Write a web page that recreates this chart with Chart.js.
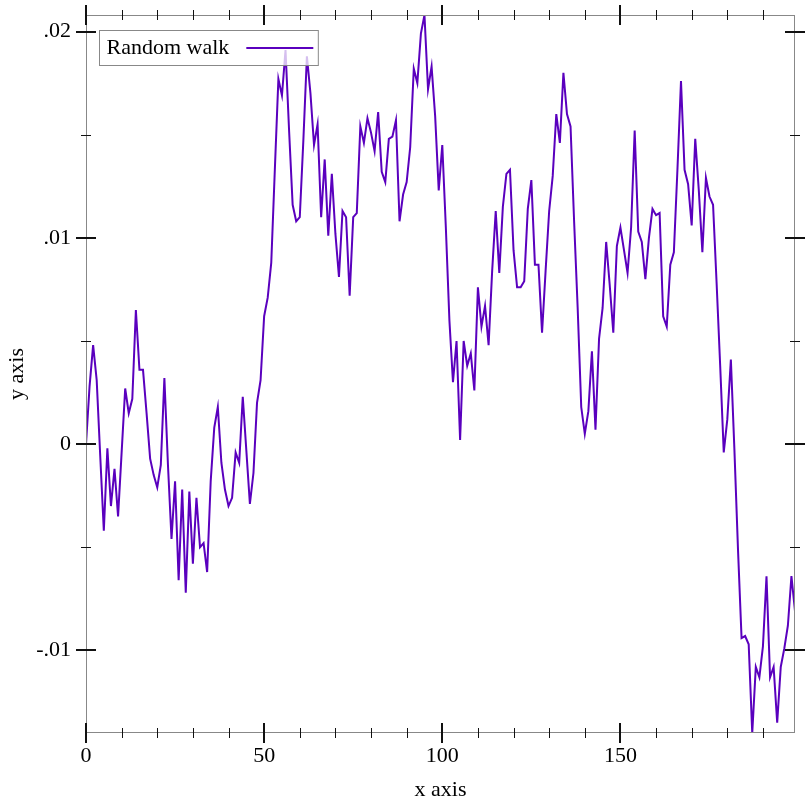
<!DOCTYPE html>
<html><head><meta charset="utf-8">
<script src="https://cdn.jsdelivr.net/npm/chart.js@4.4.1/dist/chart.umd.min.js"></script>
<style>html,body{margin:0;padding:0;background:#fff}canvas{display:block}</style>
</head><body>
<canvas id="c" width="812" height="812"></canvas>
<script>
const seriesLabel = 'Random walk';
const walkValues = [
  0.0000, 0.0028, 0.0048, 0.0031, -0.0006, -0.0042, -0.0002, -0.0030, -0.0012, -0.0035,
  -0.0004, 0.0027, 0.0015, 0.0022, 0.0065, 0.0036, 0.0036, 0.0015, -0.0007, -0.0015,
  -0.0021, -0.0010, 0.0032, -0.0010, -0.0046, -0.0018, -0.0066, -0.0022, -0.0072, -0.0023,
  -0.0058, -0.0026, -0.0050, -0.0048, -0.0062, -0.0018, 0.0008, 0.0018, -0.0009, -0.0022,
  -0.0030, -0.0026, -0.0004, -0.0009, 0.0023, -0.0003, -0.0029, -0.0014, 0.0020, 0.0031,
  0.0062, 0.0071, 0.0088, 0.0133, 0.0177, 0.0169, 0.0191, 0.0152, 0.0116, 0.0108,
  0.0110, 0.0147, 0.0188, 0.0170, 0.0145, 0.0155, 0.0110, 0.0138, 0.0101, 0.0131,
  0.0102, 0.0081, 0.0113, 0.0110, 0.0072, 0.0110, 0.0112, 0.0154, 0.0146, 0.0158,
  0.0151, 0.0142, 0.0161, 0.0132, 0.0127, 0.0148, 0.0149, 0.0157, 0.0108, 0.0121,
  0.0127, 0.0144, 0.0182, 0.0175, 0.0199, 0.0208, 0.0172, 0.0183, 0.0159, 0.0123,
  0.0145, 0.0105, 0.0060, 0.0030, 0.0050, 0.0002, 0.0050, 0.0038, 0.0044, 0.0026,
  0.0076, 0.0057, 0.0067, 0.0048, 0.0084, 0.0113, 0.0083, 0.0115, 0.0131, 0.0133,
  0.0094, 0.0076, 0.0076, 0.0079, 0.0114, 0.0128, 0.0087, 0.0087, 0.0054, 0.0084,
  0.0113, 0.0130, 0.0160, 0.0146, 0.0180, 0.0160, 0.0154, 0.0108, 0.0066, 0.0018,
  0.0005, 0.0016, 0.0045, 0.0007, 0.0051, 0.0066, 0.0098, 0.0077, 0.0054, 0.0096,
  0.0105, 0.0094, 0.0083, 0.0105, 0.0152, 0.0103, 0.0098, 0.0080, 0.0100, 0.0114,
  0.0111, 0.0112, 0.0062, 0.0057, 0.0087, 0.0093, 0.0133, 0.0176, 0.0133, 0.0126,
  0.0106, 0.0148, 0.0123, 0.0093, 0.0129, 0.0120, 0.0116, 0.0078, 0.0038, -0.0004,
  0.0012, 0.0041, -0.0003, -0.0051, -0.0094, -0.0093, -0.0097, -0.0140, -0.0108, -0.0113,
  -0.0098, -0.0064, -0.0113, -0.0108, -0.0135, -0.0108, -0.0099, -0.0088, -0.0064, -0.0081
];
const xMajorTicks = [0, 50, 100, 150];
const xMinorTicks = [10, 20, 30, 40, 60, 70, 80, 90, 110, 120, 130, 140, 160, 170, 180, 190];
const yMajorTicks = [-0.01, 0, 0.01, 0.02];
const yMajorLabels = ['-.01', '0', '.01', '.02'];
const yMinorTicks = [-0.005, 0.005, 0.015];
const xTitle = 'x axis';
const yTitle = 'y axis';

const points = walkValues.map((v, i) => ({ x: i, y: v }));
const FONT = "'Liberation Serif', 'Times New Roman', serif";
const FS = 22;

const frameTicks = {
  id: 'frameTicks',
  afterDatasetsDraw(chart) {
    const { ctx, chartArea: a, scales: { x, y } } = chart;
    ctx.save();
    ctx.strokeStyle = '#888';
    ctx.lineWidth = 1;
    ctx.strokeRect(a.left + 0.5, a.top + 0.5, a.right - a.left - 1, a.bottom - a.top - 1);
    const tick = (x1, y1, x2, y2, w) => {
      ctx.lineWidth = w;
      ctx.beginPath(); ctx.moveTo(x1, y1); ctx.lineTo(x2, y2); ctx.stroke();
    };
    ctx.strokeStyle = '#111';
    const xt = (vals, L, w) => vals.forEach(v => {
      const p = Math.round(x.getPixelForValue(v)) + (w % 2 ? 0.5 : 0);
      tick(p, a.bottom - L, p, a.bottom + L, w);
      tick(p, a.top - L, p, a.top + L, w);
    });
    const yt = (vals, L, w) => vals.forEach(v => {
      const p = Math.round(y.getPixelForValue(v)) + (w % 2 ? 0.5 : 0);
      tick(a.left - L, p, a.left + L, p, w);
      tick(a.right - L, p, a.right + L, p, w);
    });
    xt(xMinorTicks, 5, 1); xt(xMajorTicks, 10, 2);
    yt(yMinorTicks, 5, 1); yt(yMajorTicks, 10, 2);
    ctx.restore();
  }
};

const boxLegend = {
  id: 'boxLegend',
  afterDraw(chart) {
    const { ctx, chartArea: a } = chart;
    const ds = chart.data.datasets[0];
    ctx.save();
    ctx.font = FS + 'px ' + FONT;
    const tw = ctx.measureText(ds.label).width;
    const bx = a.left + 13.5, by = a.top + 15.5;
    const padL = 7, gap = 17, lw = 67, padR = 5, bh = 35;
    const bw = padL + tw + gap + lw + padR;
    ctx.fillStyle = 'rgba(255,255,255,0.75)';
    ctx.fillRect(bx, by, bw, bh);
    ctx.strokeStyle = '#888'; ctx.lineWidth = 1;
    ctx.strokeRect(bx, by, bw, bh);
    ctx.fillStyle = '#000';
    ctx.textBaseline = 'alphabetic';
    ctx.fillText(ds.label, bx + padL, by + 23);
    ctx.strokeStyle = ds.borderColor; ctx.lineWidth = 2;
    ctx.beginPath();
    ctx.moveTo(bx + padL + tw + gap, by + bh / 2);
    ctx.lineTo(bx + padL + tw + gap + lw, by + bh / 2);
    ctx.stroke();
    ctx.restore();
  }
};

new Chart(document.getElementById('c'), {
  type: 'line',
  data: {
    datasets: [{
      label: seriesLabel,
      data: points,
      borderColor: '#5a00be',
      borderWidth: 2,
      pointRadius: 0,
      tension: 0,
      fill: false
    }]
  },
  options: {
    responsive: false,
    animation: false,
    devicePixelRatio: 1,
    layout: { padding: { top: 15, right: 17, left: 0, bottom: 0 } },
    plugins: { legend: { display: false }, tooltip: { enabled: false } },
    scales: {
      x: {
        type: 'linear',
        min: 0,
        max: walkValues.length - 1,
        grid: { display: false, drawTicks: false },
        border: { display: false },
        afterBuildTicks: s => { s.ticks = xMajorTicks.map(v => ({ value: v })); },
        afterFit: s => { s.height = 79; s.paddingLeft = 0; s.paddingRight = 0; },
        ticks: { color: '#000', font: { family: FONT, size: FS }, padding: 10, maxRotation: 0, callback: v => String(v) },
        title: { display: true, text: xTitle, color: '#000', font: { family: FONT, size: FS }, padding: { top: 0, bottom: 9 } }
      },
      y: {
        type: 'linear',
        min: Math.min(...walkValues),
        max: Math.max(...walkValues),
        grid: { display: false, drawTicks: false },
        border: { display: false },
        afterBuildTicks: s => { s.ticks = yMajorTicks.map(v => ({ value: v })); },
        afterFit: s => { s.width = 86; s.paddingTop = 0; s.paddingBottom = 0; },
        ticks: { color: '#000', font: { family: FONT, size: FS }, padding: 15, callback: v => yMajorLabels[yMajorTicks.indexOf(v)] },
        title: { display: true, text: yTitle, color: '#000', font: { family: FONT, size: FS }, padding: { top: 4, bottom: 0 } }
      }
    }
  },
  plugins: [frameTicks, boxLegend]
});
</script>
</body></html>
